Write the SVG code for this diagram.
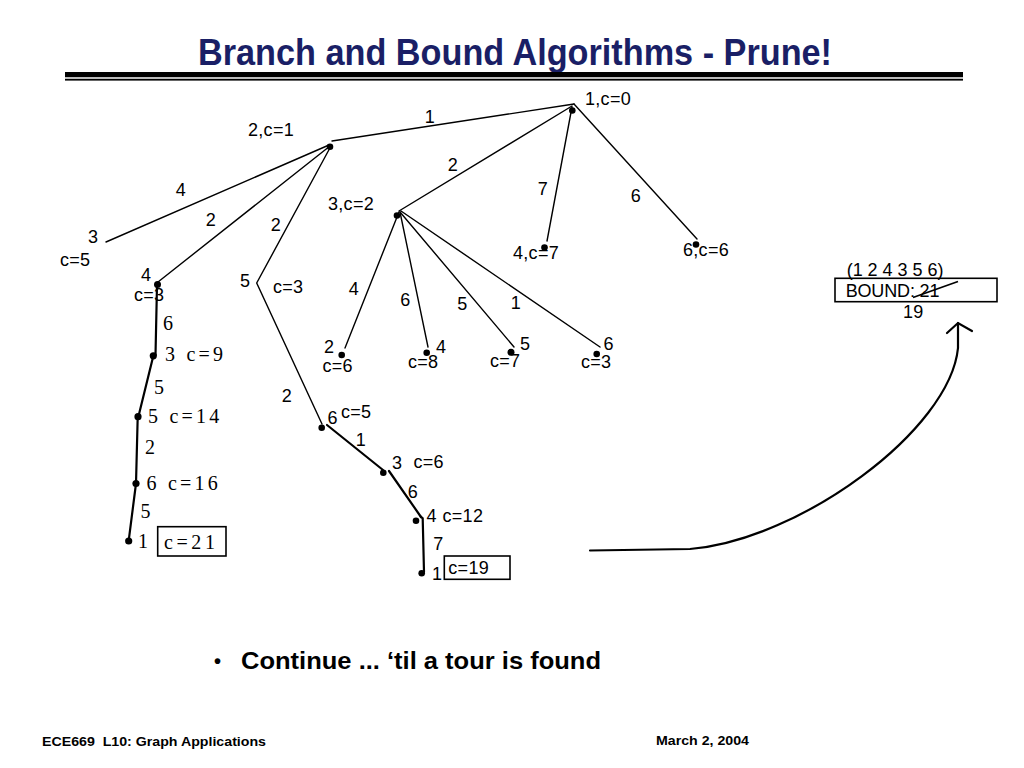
<svg xmlns="http://www.w3.org/2000/svg" width="1024" height="768" viewBox="0 0 1024 768">
<style>
  .lbl { font-family: "Liberation Sans", Arial, sans-serif; font-size: 18px; letter-spacing: 0.3px; fill: #000; }
  .mid { text-anchor: middle; }
  .ser { font-family: "Liberation Serif", "Times New Roman", serif; font-size: 20px; fill: #000; }
  .sp { letter-spacing: 3.2px; }
  .edge { stroke: #000; stroke-width: 1.4; fill: none; stroke-linecap: round; }
  .chain { stroke: #000; stroke-width: 2.2; fill: none; stroke-linecap: round; }
  .dot { fill: #000; }
  .box { fill: none; stroke: #000; stroke-width: 1.6; }
  .bold { font-family: "Liberation Sans", Arial, sans-serif; font-weight: bold; fill: #000; }
</style>
<rect width="1024" height="768" fill="#fff"/>

<!-- title -->
<g id="title">
  <text x="198" y="65" class="bold" font-size="37" style="fill:#1a1f66" textLength="634" lengthAdjust="spacingAndGlyphs">Branch and Bound Algorithms - Prune!</text>
  <rect x="65" y="72" width="898" height="5" fill="#000"/>
  <rect x="65" y="77" width="898" height="2" fill="#bbb"/>
  <rect x="65" y="79" width="898" height="1.6" fill="#000"/>
</g>

<!-- connectors -->
<g id="connectors">
  <line class="edge" x1="574" y1="104" x2="332" y2="141"/>
  <line class="edge" x1="572" y1="106" x2="399" y2="211"/>
  <line class="edge" x1="572" y1="107" x2="547" y2="241"/>
  <line class="edge" x1="574" y1="104" x2="697" y2="239"/>
  <line class="edge" x1="329" y1="145" x2="106" y2="242"/>
  <line class="edge" x1="330" y1="146" x2="158" y2="282"/>
  <polyline class="edge" points="331,146 256.7,283 322,424"/>
  <line class="edge" x1="399" y1="212" x2="345" y2="348"/>
  <line class="edge" x1="400" y1="212" x2="428" y2="347"/>
  <line class="edge" x1="400" y1="212" x2="514" y2="347"/>
  <line class="edge" x1="401" y1="211" x2="600" y2="347"/>
  <line class="chain" x1="327" y1="425" x2="383" y2="470"/>
  <line class="chain" x1="389" y1="471" x2="421" y2="517"/>
  <polyline class="chain" points="420.7,516.7 422.7,518.3 424,572"/>
  <line class="chain" x1="157" y1="285" x2="155.5" y2="355"/>
  <line class="chain" x1="153.3" y1="356" x2="138.3" y2="417"/>
  <line class="chain" x1="137.7" y1="417" x2="136" y2="483.5"/>
  <line class="chain" x1="136" y1="483.5" x2="128.7" y2="540.7"/>
  <path class="chain" d="M 590 550.5 L 690 549 C 800 540 950 430 958 348 L 958 323"/>
  <polyline class="chain" points="947,333 958,323 972,331"/>
  <line x1="913" y1="297.5" x2="958" y2="281.5" stroke="#000" stroke-width="1.6"/>
</g>

<!-- edge labels -->
<g id="edge-labels">
  <text class="lbl mid" x="430" y="123">1</text>
  <text class="lbl mid" x="453" y="171">2</text>
  <text class="lbl mid" x="543" y="195">7</text>
  <text class="lbl mid" x="636" y="202">6</text>
  <text class="lbl mid" x="181" y="196">4</text>
  <text class="lbl mid" x="211" y="226">2</text>
  <text class="lbl mid" x="276" y="231">2</text>
  <text class="lbl mid" x="354" y="295">4</text>
  <text class="lbl mid" x="405.5" y="306">6</text>
  <text class="lbl mid" x="462.5" y="310">5</text>
  <text class="lbl mid" x="516" y="309">1</text>
  <text class="lbl mid" x="287" y="402">2</text>
  <text class="lbl mid" x="361" y="446">1</text>
  <text class="lbl mid" x="413" y="498">6</text>
  <text class="lbl mid" x="438.5" y="550">7</text>
  <text class="ser" x="163" y="330">6</text>
  <text class="ser" x="154" y="394">5</text>
  <text class="ser" x="145" y="454">2</text>
  <text class="ser" x="140.5" y="518">5</text>
</g>

<!-- nodes -->
<g id="node-1">
  <circle class="dot" cx="572.3" cy="110.5" r="3.3"/>
  <text class="lbl" x="585" y="105">1,c=0</text>
</g>
<g id="node-2">
  <circle class="dot" cx="330" cy="146.7" r="3.3"/>
  <text class="lbl" x="248" y="136">2,c=1</text>
</g>
<g id="node-2-3">
  <text class="lbl" x="88" y="243">3</text>
  <text class="lbl" x="60" y="266">c=5</text>
</g>
<g id="node-2-4">
  <circle class="dot" cx="157.5" cy="284.5" r="3.5"/>
  <text class="lbl" x="141" y="281">4</text>
  <text class="lbl" x="134" y="300.5">c=3</text>
</g>
<g id="node-2-5">
  <text class="lbl" x="240" y="286.5">5</text>
  <text class="lbl" x="273" y="292.5">c=3</text>
</g>
<g id="node-3">
  <circle class="dot" cx="397" cy="215.5" r="3.3"/>
  <text class="lbl" x="328" y="209.5">3,c=2</text>
</g>
<g id="node-4">
  <circle class="dot" cx="544.5" cy="247.5" r="3.3"/>
  <text class="lbl" x="513" y="258.5">4,c=7</text>
</g>
<g id="node-6">
  <circle class="dot" cx="696" cy="244.5" r="3.3"/>
  <text class="lbl" x="683" y="256">6,c=6</text>
</g>
<g id="node-3-2">
  <circle class="dot" cx="341.7" cy="355" r="3.3"/>
  <text class="lbl" x="324" y="352.5">2</text>
  <text class="lbl" x="322.5" y="372">c=6</text>
</g>
<g id="node-3-4">
  <circle class="dot" cx="426.7" cy="352.7" r="3.3"/>
  <text class="lbl" x="436" y="353">4</text>
  <text class="lbl" x="408" y="367.5">c=8</text>
</g>
<g id="node-3-5">
  <circle class="dot" cx="511" cy="352.3" r="3.5"/>
  <text class="lbl" x="520" y="350">5</text>
  <text class="lbl" x="490" y="367">c=7</text>
</g>
<g id="node-3-6">
  <circle class="dot" cx="596.7" cy="354" r="3.3"/>
  <text class="lbl" x="603.5" y="350">6</text>
  <text class="lbl" x="581" y="367.5">c=3</text>
</g>
<g id="node-5-6">
  <circle class="dot" cx="321.7" cy="427.7" r="3.3"/>
  <text class="lbl" x="327.5" y="424">6</text>
  <text class="lbl" x="341" y="418">c=5</text>
</g>
<g id="node-6-3">
  <circle class="dot" cx="383.3" cy="472.7" r="3.3"/>
  <text class="lbl" x="392" y="468.5">3</text>
  <text class="lbl" x="413.5" y="467.5">c=6</text>
</g>
<g id="node-3-4b">
  <circle class="dot" cx="416" cy="520.7" r="3.3"/>
  <text class="lbl" x="426.5" y="522">4</text>
  <text class="lbl" x="442.5" y="522">c=12</text>
</g>
<g id="node-4-1">
  <circle class="dot" cx="421.7" cy="573.3" r="3.3"/>
  <text class="lbl" x="432" y="579.5">1</text>
  <rect class="box" x="444.3" y="556" width="65.7" height="23.3"/>
  <text class="lbl" x="448.3" y="574">c=19</text>
</g>
<g id="chain-3">
  <circle class="dot" cx="153.3" cy="355.8" r="3.6"/>
  <text class="ser sp" x="165" y="361">3 c=9</text>
</g>
<g id="chain-5">
  <circle class="dot" cx="138" cy="416.7" r="3.6"/>
  <text class="ser sp" x="148" y="423">5 c=14</text>
</g>
<g id="chain-6">
  <circle class="dot" cx="136" cy="483.5" r="3.6"/>
  <text class="ser sp" x="146.5" y="490">6 c=16</text>
</g>
<g id="chain-1">
  <circle class="dot" cx="128.7" cy="541" r="3.6"/>
  <text class="ser" x="138" y="548">1</text>
  <rect class="box" x="157.7" y="526.7" width="68.3" height="29.3"/>
  <text class="ser" x="164" y="548.5" style="letter-spacing:3.6px">c=21</text>
</g>
<g id="bound">
  <text class="lbl" x="846.7" y="275.5" textLength="97" lengthAdjust="spacing">(1 2 4 3 5 6)</text>
  <rect class="box" x="835" y="278.3" width="162" height="23.4"/>
  <text class="lbl" x="845.7" y="296.7" textLength="94" lengthAdjust="spacing">BOUND: 21</text>
  <text class="lbl" x="903" y="318">19</text>
</g>

<!-- bullet and footer -->
<g id="bullet">
  <text class="bold" x="214" y="668" font-size="20">•</text>
  <text class="bold" x="241" y="669" font-size="23" textLength="360" lengthAdjust="spacingAndGlyphs">Continue ... ‘til a tour is found</text>
</g>
<g id="footer">
  <text class="bold" x="42" y="746" font-size="13" textLength="224" lengthAdjust="spacingAndGlyphs" xml:space="preserve">ECE669  L10: Graph Applications</text>
  <text class="bold" x="656" y="745" font-size="13" textLength="93" lengthAdjust="spacingAndGlyphs">March 2, 2004</text>
</g>
</svg>
